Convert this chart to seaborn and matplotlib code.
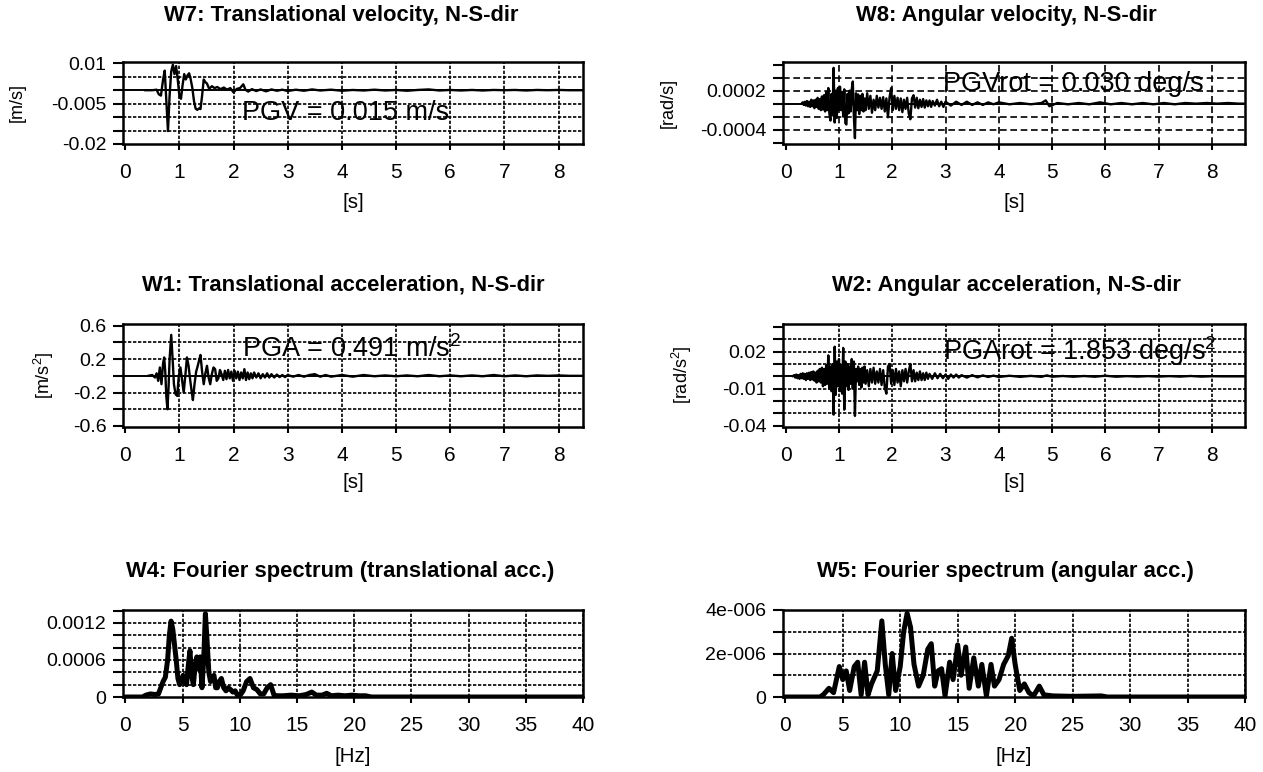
import numpy as np
import pandas as pd
import seaborn as sns
import matplotlib
matplotlib.use("Agg")
import matplotlib.pyplot as plt

# ---------------- data ----------------
# W7 translational velocity [m/s]
w7_t = [0.36, 0.50, 0.58, 0.62, 0.66, 0.70, 0.73, 0.76, 0.79, 0.82, 0.85, 0.88, 0.91, 0.94, 0.97,
        1.00, 1.03, 1.06, 1.09, 1.12, 1.15, 1.18, 1.21, 1.24, 1.27, 1.30, 1.33, 1.36, 1.39, 1.42,
        1.45, 1.48, 1.51, 1.55, 1.60, 1.65, 1.70, 1.76, 1.82, 1.88, 1.94, 2.00, 2.06, 2.12, 2.18,
        2.22, 2.27, 2.34, 2.42, 2.50, 2.60, 2.70, 2.80, 2.90, 3.00, 3.15, 3.30, 3.45, 3.60, 3.80,
        4.00, 4.20, 4.40, 4.60, 4.80, 5.00, 5.20, 5.40, 5.60, 5.80, 6.00, 6.20, 6.40, 6.60, 6.80,
        7.00, 7.20, 7.40, 7.60, 7.80, 8.00, 8.20, 8.40, 8.60]
w7_v = [0.0, 0.0, 0.0002, -0.0015, -0.002, 0.004, 0.0073, -0.004, -0.0152, -0.002, 0.007, 0.0095,
        0.006, 0.009, 0.004, -0.002, -0.0032, 0.002, 0.006, 0.004, 0.0055, 0.0063, 0.004, 0.0008,
        -0.004, -0.0068, -0.0073, -0.0068, -0.007, -0.002, 0.004, 0.003, 0.0025, 0.0005, 0.0015,
        0.0008, 0.0012, 0.0004, 0.001, 0.0002, 0.0008, -0.0008, 0.0005, 0.0008, 0.0022, 0.0002,
        -0.0005, 0.0004, -0.0003, 0.0003, -0.0004, 0.0003, -0.0002, 0.0002, -0.0003, 0.0002,
        -0.0002, 0.0003, -0.0001, 0.0002, -0.0002, 0.0001, -0.0001, 0.0002, -0.0001, 0.0001,
        -0.0002, 0.0001, 0.0003, -0.0001, 0.0001, -0.0001, 0.0001, -0.0001, 0.0001, 0.0, 0.0001,
        -0.0001, 0.0001, 0.0, 0.0001, 0.0, 0.0, 0.0]

# W8 angular velocity [1e-4 rad/s]
w8_t = [0.30, 0.32, 0.34, 0.36, 0.38, 0.40, 0.42, 0.44, 0.46, 0.48, 0.50, 0.52, 0.54, 0.56, 0.58,
        0.60, 0.62, 0.64, 0.66, 0.68, 0.70, 0.72, 0.74, 0.76, 0.78, 0.80, 0.82, 0.84, 0.86, 0.88,
        0.90, 0.92, 0.94, 0.96, 0.98, 1.00, 1.02, 1.04, 1.06, 1.08, 1.10, 1.12, 1.14, 1.16, 1.18,
        1.20, 1.22, 1.24, 1.26, 1.28, 1.30, 1.32, 1.34, 1.36, 1.38, 1.40, 1.42, 1.44, 1.46, 1.48,
        1.50, 1.53, 1.56, 1.59, 1.62, 1.65, 1.68, 1.71, 1.74, 1.77, 1.80, 1.83, 1.86, 1.89, 1.92,
        1.95, 1.98, 2.01, 2.04, 2.07, 2.10, 2.13, 2.16, 2.19, 2.22, 2.25, 2.28, 2.31, 2.34, 2.37,
        2.40, 2.43, 2.46, 2.49, 2.52, 2.55, 2.58, 2.61, 2.64, 2.67, 2.70, 2.73, 2.76, 2.80, 2.84,
        2.88, 2.92, 2.96, 3.00, 3.10, 3.20, 3.30, 3.40, 3.50, 3.60, 3.70, 3.80, 3.90, 4.00, 4.20,
        4.40, 4.60, 4.80, 4.88, 4.95, 5.10, 5.30, 5.50, 5.70, 5.90, 6.10, 6.30, 6.50, 6.70, 6.90,
        7.10, 7.30, 7.50, 7.70, 7.90, 8.10, 8.30, 8.50, 8.60]
w8_v = [0.0, 0.2, -0.2, 0.3, -0.3, 0.4, -0.4, 0.3, -0.5, 0.6, -0.4, 0.5, -0.7, 0.6, -0.5,
        0.9, -0.8, 0.7, -1.0, 1.1, -0.9, 1.3, -1.2, 1.8, -1.0, 2.4, -1.5, -2.6, 1.5, -1.8,
        5.5, -2.9, 2.0, -2.2, 2.4, -1.0, 2.6, -1.0, 1.8, -2.0, 2.2, -3.0, -3.2, 1.5, -1.5,
        2.0, -1.2, 2.2, 3.4, -2.0, -5.3, 1.6, -1.0, 1.4, -1.6, 1.2, -1.0, 1.5, -1.2, 0.8,
        -1.0, 1.6, -0.8, 1.2, -1.4, 0.6, -1.0, 1.2, -0.6, 0.9, -0.8, 1.0, -1.2, 0.8, -2.1,
        1.0, 2.4, -1.0, 1.2, -0.8, 0.9, -1.0, 0.8, -1.3, 0.6, -0.8, 0.9, -1.5, -2.4, 0.8,
        1.3, -0.6, 0.9, -0.7, 0.6, -0.5, 0.7, -0.6, 0.5, -0.4, 0.5, -0.5, 0.4, -0.3, 0.6,
        -0.4, 0.3, -0.5, 0.3, -0.3, 0.3, -0.2, 0.3, -0.2, 0.2, -0.2, 0.2, -0.1, 0.2, -0.1,
        0.1, -0.1, 0.1, 0.5, -0.4, 0.1, -0.1, 0.1, -0.1, 0.2, -0.1, 0.1, -0.1, 0.1, -0.1,
        0.1, -0.1, 0.1, 0.0, 0.1, 0.0, 0.1, 0.0, 0.0]

# W1 translational acceleration [m/s^2]
w1_t = [0.42, 0.50, 0.55, 0.58, 0.61, 0.64, 0.67, 0.70, 0.72, 0.74, 0.76, 0.78, 0.80, 0.82, 0.85,
        0.88, 0.90, 0.93, 0.96, 0.99, 1.02, 1.05, 1.08, 1.11, 1.14, 1.17, 1.20, 1.23, 1.25, 1.28,
        1.31, 1.34, 1.37, 1.39, 1.42, 1.45, 1.48, 1.51, 1.54, 1.57, 1.60, 1.63, 1.66, 1.69, 1.72,
        1.75, 1.78, 1.81, 1.84, 1.87, 1.90, 1.93, 1.96, 1.99, 2.02, 2.05, 2.08, 2.11, 2.14, 2.17,
        2.20, 2.23, 2.26, 2.29, 2.32, 2.35, 2.38, 2.42, 2.46, 2.50, 2.54, 2.58, 2.62, 2.66, 2.70,
        2.75, 2.80, 2.85, 2.90, 2.95, 3.00, 3.10, 3.20, 3.30, 3.40, 3.50, 3.60, 3.70, 3.80, 4.00,
        4.20, 4.40, 4.60, 4.80, 5.00, 5.20, 5.40, 5.60, 5.80, 6.00, 6.20, 6.40, 6.60, 6.80, 7.00,
        7.20, 7.40, 7.60, 7.80, 8.00, 8.20, 8.40, 8.60]
w1_v = [0.0, 0.01, -0.02, 0.03, -0.06, 0.10, -0.10, 0.15, 0.22, 0.05, -0.25, -0.40, -0.15, 0.20, 0.49,
        0.15, -0.10, -0.22, -0.24, 0.0, 0.10, -0.05, -0.20, 0.0, 0.22, 0.12, -0.05, -0.20, -0.29, -0.10,
        0.05, 0.12, 0.20, 0.25, 0.05, -0.10, 0.03, 0.12, -0.02, -0.10, 0.02, 0.10, 0.08, -0.06, -0.03,
        0.07, 0.02, -0.05, 0.06, -0.04, 0.07, -0.03, 0.05, -0.06, 0.06, -0.03, 0.05, -0.05, 0.04, -0.03,
        0.08, -0.05, 0.04, -0.04, 0.03, -0.03, 0.04, -0.02, 0.03, -0.03, 0.02, -0.02, 0.03, -0.02, 0.02,
        -0.02, 0.015, -0.015, 0.01, -0.015, 0.01, -0.01, 0.01, -0.01, 0.01, 0.02, -0.01, 0.01, -0.01, 0.01,
        -0.01, 0.01, -0.005, 0.005, -0.005, 0.005, -0.005, 0.01, -0.005, 0.005, -0.005, 0.005, -0.005, 0.01, -0.005,
        0.005, -0.005, 0.005, 0.0, 0.005, 0.0, 0.0, 0.0]

# W2 angular acceleration [1e-3 rad/s^2]
w2_t = [0.13, 0.16, 0.18, 0.20, 0.22, 0.24, 0.26, 0.28, 0.30, 0.32, 0.34, 0.36, 0.38, 0.40, 0.42,
        0.44, 0.46, 0.48, 0.50, 0.52, 0.54, 0.56, 0.58, 0.60, 0.62, 0.64, 0.66, 0.68, 0.70, 0.72,
        0.74, 0.76, 0.78, 0.80, 0.82, 0.84, 0.86, 0.88, 0.90, 0.92, 0.94, 0.96, 0.98, 1.00, 1.02,
        1.04, 1.06, 1.08, 1.10, 1.12, 1.14, 1.16, 1.18, 1.20, 1.22, 1.24, 1.26, 1.28, 1.30, 1.32,
        1.34, 1.36, 1.38, 1.40, 1.42, 1.44, 1.46, 1.48, 1.50, 1.53, 1.56, 1.59, 1.62, 1.65, 1.68,
        1.71, 1.74, 1.77, 1.80, 1.83, 1.86, 1.89, 1.92, 1.95, 1.98, 2.01, 2.04, 2.07, 2.10, 2.13,
        2.16, 2.19, 2.22, 2.25, 2.28, 2.31, 2.34, 2.37, 2.40, 2.43, 2.46, 2.49, 2.52, 2.55, 2.58,
        2.61, 2.64, 2.67, 2.70, 2.75, 2.80, 2.85, 2.90, 2.95, 3.00, 3.05, 3.10, 3.15, 3.20, 3.25,
        3.30, 3.40, 3.50, 3.60, 3.70, 3.80, 3.90, 4.00, 4.20, 4.40, 4.60, 4.80, 4.90, 5.00, 5.20,
        5.40, 5.60, 5.80, 6.00, 6.20, 6.40, 6.60, 6.80, 7.00, 7.20, 7.40, 7.60, 7.80, 8.00, 8.20,
        8.40, 8.60]
w2_v = [0.0, 1.0, -1.0, 1.5, -1.5, 1.0, -2.0, 2.0, -1.5, 2.5, -2.0, 2.0, -3.0, 2.5, -2.0,
        3.0, -3.0, 3.5, -2.5, 4.0, -3.5, 3.0, -5.0, 4.5, -4.0, 6.0, -5.0, 7.0, -8.0, 6.0,
        -7.0, 9.0, -6.0, 17.0, -10.0, 8.0, -12.0, 10.0, -31.0, 24.0, -15.0, 12.0, -8.0, 14.0, -12.0,
        9.0, -14.0, 23.0, -27.0, 12.0, -8.0, 10.0, -11.0, 8.0, -6.0, 14.0, -10.0, 12.0, -32.0, 6.0,
        -4.0, 8.0, -7.0, 6.0, -9.0, 7.0, -5.0, 8.0, -6.0, 5.0, -8.0, 6.0, -5.0, 7.0, -6.0,
        4.0, -5.0, 6.0, -7.0, 5.0, -9.0, -14.0, 8.0, 10.0, -6.0, 5.0, -7.0, 6.0, -5.0, 4.0,
        -8.0, 5.0, -4.0, 6.0, -5.0, 4.0, 10.0, -4.0, 5.0, -4.0, 3.0, -3.0, 4.0, -3.0, 2.5,
        -3.0, 3.0, -2.0, 2.0, -2.0, 2.5, -1.5, 2.0, -1.5, 1.5, -2.0, 1.5, -1.0, 1.5, -1.0,
        1.0, -1.0, 1.0, -0.8, 0.8, -0.5, 0.6, -0.5, 0.5, -0.4, 0.4, -0.4, 0.8, -0.3, 0.3,
        -0.3, 0.3, -0.3, 0.5, -0.3, 0.2, -0.2, 0.2, -0.2, 0.2, -0.2, 0.3, -0.2, 0.1, 0.0,
        0.0, 0.0]

# W4 Fourier spectrum, translational acc. [1e-4]
w4_f = [0.0, 1.5, 1.8, 2.2, 2.6, 2.9, 3.1, 3.3, 3.5, 3.7, 3.85, 4.0, 4.15, 4.3, 4.45, 4.6, 4.75,
        4.9, 5.05, 5.2, 5.35, 5.5, 5.65, 5.8, 5.95, 6.1, 6.25, 6.4, 6.55, 6.7, 6.85, 7.0, 7.15,
        7.3, 7.45, 7.6, 7.75, 7.9, 8.05, 8.2, 8.4, 8.6, 8.8, 9.0, 9.2, 9.4, 9.6, 9.8, 10.0, 10.3,
        10.6, 10.9, 11.2, 11.5, 11.8, 12.1, 12.4, 12.7, 13.0, 13.3, 13.8, 14.5, 15.2, 15.8, 16.3,
        16.7, 17.2, 17.6, 18.0, 18.6, 19.2, 19.8, 20.4, 21.0, 21.5, 40.0]
w4_a = [0.0, 0.0, 0.3, 0.5, 0.4, 0.5, 1.5, 2.5, 3.2, 6.0, 10.0, 12.3, 11.0, 8.5, 6.0, 3.0, 2.0,
        2.5, 3.5, 2.5, 2.0, 5.0, 7.5, 3.5, 2.0, 5.0, 6.5, 4.5, 6.5, 1.5, 6.0, 13.5, 9.0,
        4.0, 2.5, 3.0, 3.5, 1.5, 1.5, 2.5, 3.0, 1.5, 1.0, 1.5, 1.2, 0.8, 1.0, 0.3, 0.2, 1.0,
        2.5, 3.0, 1.5, 1.2, 0.5, 0.5, 1.5, 2.0, 0.3, 0.2, 0.2, 0.3, 0.2, 0.4, 0.8,
        0.3, 0.3, 0.6, 0.2, 0.3, 0.2, 0.3, 0.2, 0.2, 0.0, 0.0]

# W5 Fourier spectrum, angular acc. [1e-6]
w5_f = [0.0, 3.0, 3.3, 3.8, 4.2, 4.7, 5.0, 5.3, 5.6, 6.0, 6.3, 6.6, 6.9, 7.2, 7.5, 8.0, 8.4,
        8.7, 9.0, 9.3, 9.6, 10.0, 10.3, 10.6, 10.9, 11.2, 11.6, 12.0, 12.4, 12.7, 13.0, 13.3,
        13.6, 13.9, 14.3, 14.6, 15.0, 15.3, 15.7, 16.0, 16.4, 16.8, 17.1, 17.5, 17.9, 18.2,
        18.6, 19.0, 19.4, 19.7, 20.0, 20.4, 20.8, 21.2, 21.6, 22.1, 22.5, 23.3, 25.0, 27.5, 28.0, 40.0]
w5_a = [0.0, 0.0, 0.1, 0.4, 0.2, 1.4, 0.8, 1.2, 0.3, 1.4, 1.6, 0.1, 1.6, 0.1, 0.6, 1.2, 3.5,
        1.5, 0.1, 2.0, 0.3, 1.4, 3.0, 3.85, 3.2, 1.5, 0.5, 1.0, 2.2, 2.45, 0.5, 1.2,
        1.3, 0.05, 1.6, 0.8, 2.4, 1.0, 2.3, 0.4, 1.8, 0.5, 1.5, 0.05, 1.5, 0.5,
        0.8, 1.5, 1.9, 2.7, 1.5, 0.3, 0.6, 0.2, 0.05, 0.5, 0.1, 0.05, 0.03, 0.05, 0.0, 0.0]

# ---------------- style ----------------
sns.set_theme(style="ticks")
plt.rcParams['font.family'] = ['Liberation Sans', 'DejaVu Sans']
plt.rcParams['mathtext.default'] = 'regular'
plt.rcParams['text.color'] = 'black'
plt.rcParams['axes.labelcolor'] = 'black'

W, H = 1263, 772
fig = plt.figure(figsize=(W / 100, H / 100), dpi=100)
dotted = (0, (2, 1))
dashed = (0, (4, 2.2))

time_ticks = [0, 1, 2, 3, 4, 5, 6, 7, 8]
freq_ticks = [0, 5, 10, 15, 20, 25, 30, 35, 40]


def box(px0, py0, px1, py1):
    # pixel box -> figure fraction rectangle
    return [px0 / W, 1 - py1 / H, (px1 - px0) / W, (py1 - py0) / H]


def panel(rect, x, y, xlim, xticks, ylim, ymajor, ylabels, yminor, ygrid, lw, ls, zero=True):
    ax = fig.add_axes(rect)
    sns.lineplot(x=x, y=y, ax=ax, color="black", linewidth=lw, estimator=None,
                 sort=False, zorder=3)
    # grid lines (drawn over the annotation text, like the original)
    for gx in xticks[1:]:
        ax.axvline(gx, color="black", lw=1.2, ls=ls, zorder=2.5)
    for gy in ygrid:
        ax.axhline(gy, color="black", lw=1.2, ls=ls, zorder=2.5)
    if zero:
        ax.axhline(0, color="black", lw=1.4, zorder=2.6)
    ax.set_xlim(xlim)
    ax.set_ylim(ylim)
    ax.set_xticks(xticks, labels=[str(v) for v in xticks])
    ax.set_yticks(ymajor, labels=ylabels)
    ax.set_yticks(yminor, minor=True)
    ax.grid(False)
    ax.tick_params(axis="y", which="both", direction="out", length=7, width=1.5,
                   pad=5, labelsize=14, colors="black", left=True)
    ax.tick_params(axis="x", which="both", direction="out", length=4.5, width=1.5,
                   pad=9, labelsize=15, colors="black", bottom=True)
    for sp in ax.spines.values():
        sp.set_visible(True)
        sp.set_color("black")
        sp.set_linewidth(1.8)
        sp.set_zorder(4)
    ax.set_xlabel("")
    ax.set_ylabel("")
    return ax


# W7
ax7 = panel(box(123, 62, 583, 144), w7_t, w7_v, (-0.04, 8.45), time_ticks,
            (-0.02, 0.0105), [0.01, -0.005, -0.02], ["0.01", "-0.005", "-0.02"],
            [0.005, 0, -0.01, -0.015], [0.005, -0.005, -0.01, -0.015], 1.7, dotted)
ax7.text(2.15, -0.011, "PGV = 0.015 m/s", fontsize=19.5, zorder=1)

# W8
ax8 = panel(box(783, 62, 1245, 144), w8_t, np.array(w8_v) * 1e-4, (-0.05, 8.62), time_ticks,
            (-0.00062, 0.00064), [0.0002, -0.0004], ["0.0002", "-0.0004"],
            [0.0006, 0.0004, 0, -0.0002, -0.0006], [0.0004, 0.0002, -0.0002, -0.0004],
            1.7, dashed)
ax8.text(2.95, 0.0002, "PGVrot = 0.030 deg/s", fontsize=19.5, zorder=1)

# W1
ax1 = panel(box(123, 324, 583, 427), w1_t, w1_v, (-0.04, 8.45), time_ticks,
            (-0.612, 0.62), [0.6, 0.2, -0.2, -0.6], ["0.6", "0.2", "-0.2", "-0.6"],
            [0.4, 0, -0.4], [0.4, 0.2, -0.2, -0.4], 1.7, dotted)
ax1.text(2.15, 0.22, "PGA = 0.491 m/s$^{2}$", fontsize=19.5, zorder=1)

# W2
ax2 = panel(box(783, 324, 1245, 427), w2_t, np.array(w2_v) * 1e-3, (-0.05, 8.62), time_ticks,
            (-0.041, 0.0424), [0.02, -0.01, -0.04], ["0.02", "-0.01", "-0.04"],
            [0.04, 0.03, 0.01, 0, -0.02, -0.03], [0.03, 0.02, 0.01, -0.01, -0.02, -0.03],
            1.7, dotted)
ax2.text(2.95, 0.013, "PGArot = 1.853 deg/s$^{2}$", fontsize=19.5, zorder=1)

# W4
ax4 = panel(box(123, 610, 583, 697), w4_f, np.array(w4_a) * 1e-4, (-0.2, 40), freq_ticks,
            (0, 0.00141), [0.0012, 0.0006, 0], ["0.0012", "0.0006", "0"],
            [0.0014, 0.001, 0.0008, 0.0004, 0.0002],
            [0.0012, 0.001, 0.0008, 0.0006, 0.0004, 0.0002], 3.6, dotted, zero=False)

# W5
ax5 = panel(box(783, 610, 1245, 697), w5_f, np.array(w5_a) * 1e-6, (-0.2, 40), freq_ticks,
            (0, 4e-6), [4e-6, 2e-6, 0], ["4e-006", "2e-006", "0"],
            [3e-6, 1e-6], [3e-6, 2e-6, 1e-6], 3.6, dotted, zero=False)

# titles
titles = [("W7: Translational velocity, N-S-dir", 341, 15),
          ("W8: Angular velocity, N-S-dir", 1006, 15),
          ("W1: Translational acceleration, N-S-dir", 343, 285),
          ("W2: Angular acceleration, N-S-dir", 1006, 285),
          ("W4: Fourier spectrum (translational acc.)", 340, 572),
          ("W5: Fourier spectrum (angular acc.)", 1005, 572)]
for txt, cx, cy in titles:
    fig.text(cx / W, 1 - cy / H, txt, ha="center", va="center", fontsize=15.8,
             fontweight="bold", color="black")

# axis labels
for txt, cx, cy in [("[s]", 353, 202), ("[s]", 1014, 202), ("[s]", 353, 483),
                    ("[s]", 1014, 483), ("[Hz]", 353, 757), ("[Hz]", 1014, 757)]:
    fig.text(cx / W, 1 - cy / H, txt, ha="center", va="center", fontsize=14.8,
             color="black")

for txt, cx, cy in [("[m/s]", 17, 103), ("[rad/s]", 668, 103),
                    ("[m/s$^{2}$]", 44, 375), ("[rad/s$^{2}$]", 682, 375)]:
    fig.text(cx / W, 1 - cy / H, txt, ha="center", va="center", fontsize=13,
             rotation=90, color="black")

fig.savefig("out.png", dpi=100, facecolor="white")
